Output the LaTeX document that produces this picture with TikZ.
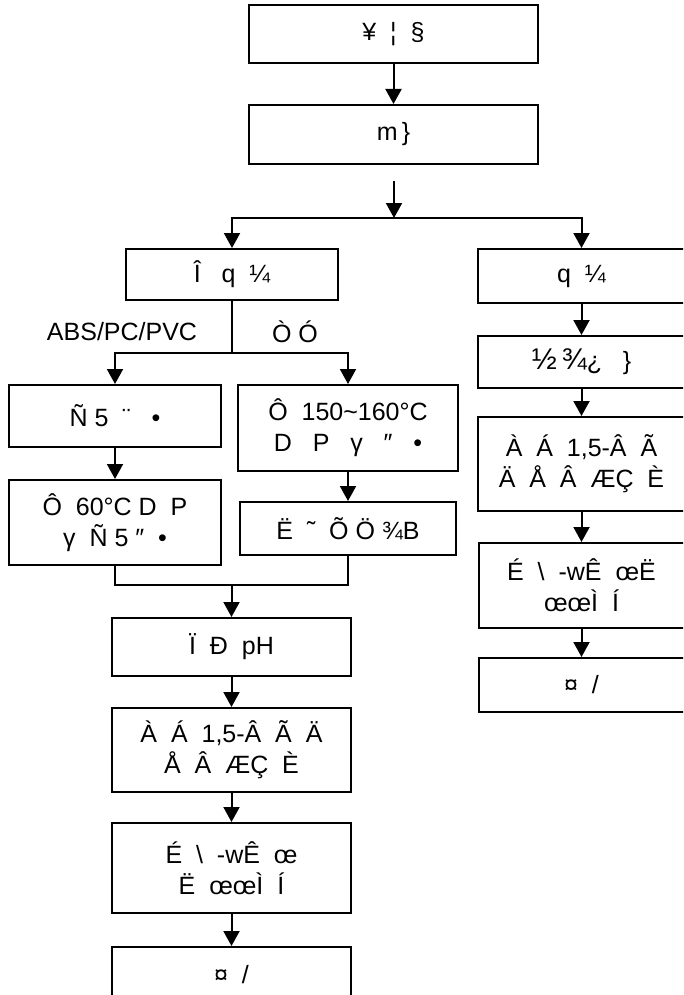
\documentclass[tikz,border=0pt]{standalone}
\usepackage{fontspec}
\setmainfont{Liberation Sans}
\usetikzlibrary{arrows.meta, calc}
\usetikzlibrary{positioning}

\begin{document}
\begin{tikzpicture}[x=1pt, y=-1pt, line width=2pt, >={Triangle[length=15pt,width=16pt]},
	box/.style 2 args={draw, minimum width=#1pt, minimum height=#2pt, inner sep=0pt, align=center},
	every node/.style={font=\fontsize{25}{31}\selectfont}]
    \useasboundingbox (0,0) rectangle (683,995);
    \clip (0,0) rectangle (683,995);
    % top of the chart
    \node[box={289}{58}] at (393.5,34) (top) {¥~~¦~~§};
    \node[box={289}{59}] at (393.5,134.5) (pre) {m\,\}};
	\draw[->] (top.south) -- (pre.north);
	\coordinate (fork0) at (394,181);
	\coordinate (split) at (394,218);
	\draw[->] (fork0) -- (split);
    \node[box={212}{51}] at (232,274.5) (Lcls) {Î~~~q~~¼};
    \node[box={208}{54}] at (581.5,276) (Rcls) {q~~¼};
	\draw[->] (split) -| (Lcls.north);
	\draw[->] (split) -| (Rcls.north);
    % left branch
	\node at (122,332) (abs) {ABS/PC/PVC};
	\node at (295,332) (soft) {Ò~Ó};
	\coordinate (Lfork) at (232,353);
	\draw (Lcls.south) -- (Lfork);
    \node[box={212}{62}] at (115,416) (L1) {Ñ~5~~¨~~~•};
    \node[box={212}{85}] at (115,522.5) (L2) {Ô~~60°C~D~~P\\γ~~Ñ~5~″~~•};
    \node[box={220}{86}] at (348,428) (M1) {Ô~~150\textasciitilde160°C\\D~~~P~~~γ~~~″~~~•};
    \node[box={216}{53}] at (348,528.5) (M2) {Ë~~˜~~Õ~Ö~¾B};
	\draw[->] (Lfork) -| (L1.north);
	\draw[->] (Lfork) -| (M1.north);
	\draw[->] (L1.south) -- (L2.north);
	\draw[->] (M1.south) -- (M2.north);
	\coordinate (join) at (231.5,585);
	\draw (L2.south) -- (L2.south |- join) -- (M2.south |- join) -- (M2.south);
    \node[box={239}{58}] at (231.5,647) (ph) {Ï~~Ð~~pH};
    \node[box={239}{84}] at (231.5,750) (L3) {À~~Á~~1,5-Â~~Ã~~Ä\\Å~~Â~~ÆÇ~~È};
    \node[box={239}{90}] at (231.5,868) (L4) {É~~\textbackslash~~-wÊ~~œ\\Ë~~œœÌ~~Í};
    \node[box={239}{56}] at (231.5,975) (L5) {¤~~/};
	\draw[->] (join) -- (ph.north);
	\draw[->] (ph.south) -- (L3.north);
	\draw[->] (L3.south) -- (L4.north);
	\draw[->] (L4.south) -- (L5.north);
    % right branch
    \node[box={208}{52}] at (581.5,362) (R2) {{\fontsize{30}{31}\selectfont ½\,¾}¿~~~\}};
    \node[box={208}{94}] at (581.5,464) (R3) {À~~Á~~1,5-Â~~Ã\\Ä~~Å~~Â~~ÆÇ~~È};
    \node[box={206}{85}] at (581.5,585.5) (R4) {É~~\textbackslash~~-wÊ~~œË\\œœÌ~~Í};
    \node[box={206}{54}] at (581.5,685) (R5) {¤~~/};
	\draw[->] (Rcls.south) -- (R2.north);
	\draw[->] (R2.south) -- (R3.north);
	\draw[->] (R3.south) -- (R4.north);
	\draw[->] (R4.south) -- (R5.north);
    \end{tikzpicture}
\end{document}
